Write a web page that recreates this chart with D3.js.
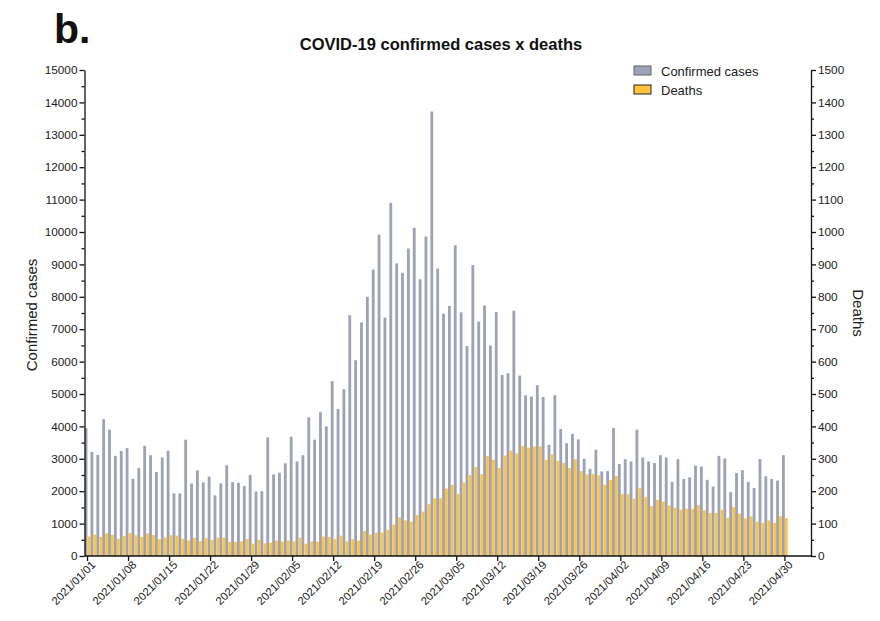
<!DOCTYPE html>
<html>
<head>
<meta charset="utf-8">
<script src="https://cdn.jsdelivr.net/npm/d3@7"></script>
<style>
  body { margin: 0; background: #fff; }
  svg { font-family: "Liberation Sans", Arial, sans-serif; }
  .axis path, .axis line { stroke: #111; stroke-width: 1.3; }
  .axis text { fill: #222; }
</style>
</head>
<body>
<svg width="880" height="621"></svg>
<script>
// daily confirmed cases, 2021/01/01 - 2021/04/30
const cases = [
  3950, 3210, 3120, 4220, 3900, 3090, 3240, 3330, 2380, 2720,
  3400, 3110, 2590, 3040, 3250, 1930, 1930, 3590, 2240, 2640,
  2270, 2450, 1870, 2240, 2800, 2280, 2260, 2160, 2500, 1990,
  2000, 3660, 2520, 2570, 2860, 3680, 2920, 3110, 4280, 3590,
  4440, 4000, 5400, 4540, 5150, 7430, 6040, 7210, 8000, 8840,
  9920, 7360, 10900, 9030, 8740, 9490, 10130, 8540, 9860, 13720,
  8870, 7480, 7720, 9590, 7520, 6480, 8980, 7230, 7730, 6500,
  7530, 5590, 5640, 7570, 5570, 4960, 4920, 5270, 4910, 3430,
  4960, 3920, 3480, 3770, 3600, 3000, 2690, 3280, 2610, 2620,
  3950, 2840, 2990, 2920, 3900, 3040, 2920, 2870, 3110, 3040,
  2290, 2990, 2380, 2430, 2790, 2760, 2350, 2140, 3090, 3010,
  1970, 2560, 2650, 2290, 2100, 2990, 2460, 2380, 2330, 3110
];

// daily deaths, same days
const deaths = [
  60, 66, 59, 70, 65, 53, 62, 71, 64, 59,
  70, 65, 52, 57, 64, 63, 53, 48, 56, 46,
  56, 49, 57, 57, 44, 44, 45, 52, 38, 50,
  39, 41, 48, 45, 48, 45, 57, 38, 45, 44,
  60, 59, 52, 63, 45, 52, 48, 77, 66, 71,
  72, 81, 97, 119, 110, 106, 126, 137, 160, 178,
  178, 208, 220, 192, 227, 250, 275, 252, 309, 297,
  271, 310, 325, 317, 340, 334, 338, 338, 297, 313,
  294, 287, 272, 299, 262, 252, 253, 249, 220, 235,
  247, 191, 191, 177, 209, 182, 154, 173, 168, 156,
  149, 143, 146, 146, 157, 141, 133, 133, 143, 118,
  151, 131, 116, 123, 106, 102, 110, 102, 123, 117
];

const days = d3.timeDay.range(new Date(2021, 0, 1), new Date(2021, 4, 1));
const fmt = d3.timeFormat("%Y/%m/%d");
const dayLabels = days.map(fmt);

const tickLabels = [
  "2021/01/01", "2021/01/08", "2021/01/15", "2021/01/22", "2021/01/29",
  "2021/02/05", "2021/02/12", "2021/02/19", "2021/02/26", "2021/03/05",
  "2021/03/12", "2021/03/19", "2021/03/26", "2021/04/02", "2021/04/09",
  "2021/04/16", "2021/04/23", "2021/04/30"
];
const casesTicks = d3.range(0, 15001, 1000);
const deathsTicks = d3.range(0, 1501, 100);

const series = ["Confirmed cases", "Deaths"];
const colors = { "Confirmed cases": "#9da2b7", "Deaths": "#fec440" };

const rows = dayLabels.map((d, i) => ({ day: d, cases: cases[i], deaths: deaths[i] }));

const svg = d3.select("svg");

const plotL = 84.5, plotR = 811, plotT = 70, plotB = 556;

const x = d3.scaleBand().domain(dayLabels).range([plotL + 0.1, 787.8]).padding(0);
const xSub = d3.scaleBand().domain(["cases", "deaths"]).range([0, x.bandwidth()])
  .paddingInner(0.04).paddingOuter(0.02);
const yCases = d3.scaleLinear().domain([0, 15000]).range([plotB, plotT]);
const yDeaths = d3.scaleLinear().domain([0, 1500]).range([plotB, plotT]);

// bars
const g = svg.append("g");
const day = g.selectAll(".day").data(rows).enter().append("g")
  .attr("transform", d => `translate(${x(d.day)},0)`);

day.append("rect")
  .attr("x", xSub("cases"))
  .attr("width", xSub.bandwidth())
  .attr("y", d => yCases(d.cases))
  .attr("height", d => plotB - yCases(d.cases))
  .attr("fill", colors["Confirmed cases"]);

day.append("rect")
  .attr("x", xSub("deaths"))
  .attr("width", xSub.bandwidth())
  .attr("y", d => yDeaths(d.deaths))
  .attr("height", d => plotB - yDeaths(d.deaths))
  .attr("fill", colors["Deaths"]);

// left axis, with minor ticks
svg.append("g").attr("class", "axis")
  .attr("transform", `translate(${plotL},0)`)
  .call(d3.axisLeft(yCases).tickValues(d3.range(500, 15000, 1000)).tickSize(3).tickFormat(""))
  .call(a => a.select(".domain").remove());
svg.append("g").attr("class", "axis")
  .attr("transform", `translate(${plotL},0)`)
  .call(d3.axisLeft(yCases).tickValues(casesTicks).tickFormat(d3.format("d"))
    .tickSize(5).tickSizeOuter(0).tickPadding(2))
  .call(a => a.selectAll("text").attr("font-size", "11.8px"));

// right axis
svg.append("g").attr("class", "axis")
  .attr("transform", `translate(${plotR},0)`)
  .call(d3.axisRight(yDeaths).tickValues(d3.range(50, 1500, 100)).tickSize(3).tickFormat(""))
  .call(a => a.select(".domain").remove());
svg.append("g").attr("class", "axis")
  .attr("transform", `translate(${plotR},0)`)
  .call(d3.axisRight(yDeaths).tickValues(deathsTicks).tickFormat(d3.format("d"))
    .tickSize(5).tickSizeOuter(0).tickPadding(2))
  .call(a => a.selectAll("text").attr("font-size", "11.8px"));

// bottom axis
svg.append("line")
  .attr("x1", plotL).attr("x2", plotR).attr("y1", plotB).attr("y2", plotB)
  .attr("stroke", "#111").attr("stroke-width", 1.3);
const xAxis = svg.append("g").attr("class", "axis")
  .attr("transform", `translate(0,${plotB})`)
  .call(d3.axisBottom(x).tickValues(tickLabels).tickSize(5).tickSizeOuter(0));
xAxis.select(".domain").remove();
xAxis.selectAll("text")
  .attr("font-size", "11.3px")
  .attr("text-anchor", "end")
  .attr("dy", "0")
  .attr("transform", "translate(3,4) rotate(-45)");

// axis titles
svg.append("text")
  .attr("transform", `translate(37,${(plotT + plotB) / 2 + 2}) rotate(-90)`)
  .attr("text-anchor", "middle")
  .attr("font-size", "15px").attr("fill", "#222")
  .text("Confirmed cases");
svg.append("text")
  .attr("transform", `translate(853,${(plotT + plotB) / 2}) rotate(90)`)
  .attr("text-anchor", "middle")
  .attr("font-size", "15px").attr("fill", "#222")
  .text("Deaths");

// title and panel letter
svg.append("text")
  .attr("x", 441).attr("y", 50)
  .attr("text-anchor", "middle")
  .attr("font-size", "16.5px").attr("font-weight", "bold").attr("fill", "#111")
  .text("COVID-19 confirmed cases x deaths");
svg.append("text")
  .attr("x", 54).attr("y", 43)
  .attr("font-size", "41px").attr("font-weight", "bold").attr("fill", "#111")
  .text("b.");

// legend
const legend = svg.append("g").attr("transform", "translate(634,66)");
const li = legend.selectAll("g").data(series).enter().append("g")
  .attr("transform", (d, i) => `translate(0,${i * 19})`);
li.append("rect")
  .attr("width", 17).attr("height", 9)
  .attr("fill", d => colors[d])
  .attr("stroke", d => d === "Deaths" ? "#222" : "#666")
  .attr("stroke-width", 1);
li.append("text")
  .attr("x", 27).attr("y", 9.5)
  .attr("font-size", "13px").attr("fill", "#222")
  .text(d => d);
</script>
</body>
</html>
